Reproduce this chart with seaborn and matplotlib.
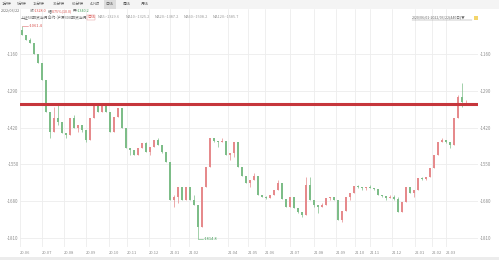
import numpy as np
import pandas as pd
import matplotlib
matplotlib.use("Agg")
import matplotlib.pyplot as plt
import seaborn as sns
from matplotlib.patches import Rectangle

# ---- data (spread, 4-trading-day bars) ----
opens = [-1075.2, -1092.9, -1110.5, -1121.1, -1160.0, -1191.8, -1251.9, -1364.9, -1435.6, -1386.1,
         -1400.2, -1439.1, -1446.2, -1386.1, -1421.4, -1410.8, -1428.5, -1463.8, -1386.1, -1343.7,
         -1364.9, -1336.7, -1364.9, -1435.6, -1382.6, -1350.8, -1421.4, -1492.1, -1499.2, -1516.8,
         -1492.1, -1474.4, -1506.2, -1488.6, -1463.8, -1481.5, -1506.2, -1541.6, -1675.8, -1665.2,
         -1629.9, -1675.8, -1629.9, -1675.8, -1693.5, -1771.2, -1629.9, -1559.2, -1456.8, -1467.4,
         -1470.9, -1467.4, -1516.8, -1509.8, -1470.9, -1559.2, -1591.0, -1615.8, -1605.2, -1591.0,
         -1658.2, -1665.2, -1668.8, -1658.2, -1640.5, -1615.8, -1672.3, -1700.5, -1665.2, -1704.1,
         -1718.2, -1728.8, -1622.8, -1675.8, -1693.5, -1700.5, -1693.5, -1668.8, -1665.2, -1675.8,
         -1746.5, -1714.7, -1665.2, -1651.1, -1626.4, -1629.9, -1633.4, -1629.9, -1633.4, -1637.0,
         -1658.2, -1661.7, -1668.8, -1665.2, -1672.3, -1718.2, -1682.9, -1629.9, -1651.1, -1640.5,
         -1598.1, -1601.6, -1594.6, -1562.8, -1516.8, -1470.9, -1463.8, -1470.9, -1481.5, -1386.1,
         -1312.0, -1329.6]
closes = [-1092.9, -1110.5, -1121.1, -1160.0, -1191.8, -1251.9, -1364.9, -1435.6, -1386.1, -1400.2,
          -1439.1, -1446.2, -1386.1, -1421.4, -1410.8, -1428.5, -1463.8, -1386.1, -1343.7, -1364.9,
          -1336.7, -1364.9, -1435.6, -1382.6, -1350.8, -1421.4, -1492.1, -1499.2, -1516.8, -1492.1,
          -1474.4, -1506.2, -1488.6, -1463.8, -1481.5, -1506.2, -1541.6, -1675.8, -1665.2, -1629.9,
          -1675.8, -1629.9, -1675.8, -1693.5, -1771.2, -1629.9, -1559.2, -1456.8, -1467.4, -1470.9,
          -1467.4, -1516.8, -1509.8, -1470.9, -1559.2, -1591.0, -1615.8, -1605.2, -1591.0, -1658.2,
          -1665.2, -1668.8, -1658.2, -1640.5, -1615.8, -1672.3, -1700.5, -1665.2, -1704.1, -1718.2,
          -1728.8, -1622.8, -1675.8, -1693.5, -1700.5, -1693.5, -1668.8, -1665.2, -1675.8, -1746.5,
          -1714.7, -1665.2, -1651.1, -1626.4, -1629.9, -1633.4, -1629.9, -1633.4, -1637.0, -1658.2,
          -1661.7, -1668.8, -1665.2, -1672.3, -1718.2, -1682.9, -1629.9, -1651.1, -1640.5, -1598.1,
          -1601.6, -1594.6, -1562.8, -1516.8, -1470.9, -1463.8, -1470.9, -1481.5, -1386.1, -1312.0,
          -1329.6, -1328.0]
highs = [-1061.4, -1092.9, -1103.5, -1121.1, -1160.0, -1191.8, -1251.9, -1364.9, -1347.3, -1340.2,
         -1400.2, -1439.1, -1386.1, -1375.5, -1410.8, -1410.8, -1428.5, -1386.1, -1340.2, -1343.7,
         -1336.7, -1333.1, -1364.9, -1382.6, -1350.8, -1350.8, -1421.4, -1492.1, -1499.2, -1492.1,
         -1474.4, -1470.9, -1488.6, -1463.8, -1456.8, -1481.5, -1506.2, -1541.6, -1658.2, -1629.9,
         -1629.9, -1629.9, -1629.9, -1658.2, -1693.5, -1629.9, -1559.2, -1456.8, -1456.8, -1467.4,
         -1456.8, -1467.4, -1509.8, -1470.9, -1470.9, -1559.2, -1591.0, -1605.2, -1580.4, -1591.0,
         -1658.2, -1661.7, -1658.2, -1640.5, -1605.2, -1615.8, -1672.3, -1665.2, -1665.2, -1704.1,
         -1718.2, -1594.6, -1594.6, -1675.8, -1693.5, -1686.4, -1668.8, -1665.2, -1665.2, -1675.8,
         -1714.7, -1665.2, -1651.1, -1626.4, -1622.8, -1629.9, -1629.9, -1622.8, -1633.4, -1637.0,
         -1658.2, -1661.7, -1658.2, -1658.2, -1665.2, -1682.9, -1629.9, -1629.9, -1640.5, -1598.1,
         -1594.6, -1594.6, -1562.8, -1516.8, -1470.9, -1456.8, -1463.8, -1470.9, -1386.1, -1304.9,
         -1262.5, -1322.5]
lows = [-1092.9, -1110.5, -1121.1, -1160.0, -1191.8, -1251.9, -1364.9, -1456.8, -1435.6, -1410.8,
        -1439.1, -1456.8, -1446.2, -1421.4, -1435.6, -1435.6, -1470.9, -1463.8, -1386.1, -1364.9,
        -1364.9, -1364.9, -1435.6, -1435.6, -1382.6, -1421.4, -1492.1, -1516.8, -1516.8, -1516.8,
        -1492.1, -1506.2, -1516.8, -1488.6, -1481.5, -1509.8, -1541.6, -1675.8, -1700.5, -1686.4,
        -1675.8, -1675.8, -1675.8, -1693.5, -1814.8, -1771.2, -1629.9, -1559.2, -1470.9, -1488.6,
        -1470.9, -1516.8, -1534.5, -1523.9, -1559.2, -1591.0, -1615.8, -1629.9, -1605.2, -1658.2,
        -1665.2, -1672.3, -1668.8, -1658.2, -1640.5, -1672.3, -1700.5, -1700.5, -1704.1, -1721.7,
        -1735.9, -1728.8, -1675.8, -1700.5, -1721.7, -1700.5, -1693.5, -1675.8, -1675.8, -1746.5,
        -1753.5, -1714.7, -1675.8, -1651.1, -1633.4, -1640.5, -1640.5, -1633.4, -1640.5, -1658.2,
        -1665.2, -1675.8, -1668.8, -1675.8, -1718.2, -1718.2, -1682.9, -1651.1, -1665.2, -1640.5,
        -1605.2, -1605.2, -1594.6, -1562.8, -1516.8, -1470.9, -1474.4, -1492.1, -1481.5, -1386.1,
        -1347.3, -1340.2]

month_pos = [0, 22, 44, 66, 89, 107, 129, 150, 169, 208, 228, 245, 270, 294, 316, 335, 350, 372, 395, 412, 426]
month_labels = ["20.06", "20.07", "20.08", "20.09", "20.10", "20.11", "20.12", "21.01", "21.02", "21.04",
                "21.05", "21.06", "21.07", "21.08", "21.09", "21.10", "21.11", "21.12", "22.01", "22.02", "22.03"]
y_ticks = [-1160, -1290, -1420, -1550, -1680, -1810]
ref_level = -1336.0
max_label = "-1061.4"
min_label = "-1814.8"

# ---- styling ----
sns.set_theme(style="white")
plt.rcParams["font.family"] = ["Noto Sans CJK SC", "DejaVu Sans"]
plt.rcParams["axes.unicode_minus"] = False

RED = "#e68a8c"
GREEN = "#7dbd88"
GRID = "#ededed"
TXT = "#8c8c8c"

df = pd.DataFrame({"open": opens, "close": closes, "high": highs, "low": lows})
df["x"] = np.arange(len(df)) * 4 + 2
df["col"] = np.where(df["close"] >= df["open"], RED, GREEN)

W, H = 499, 260
fig = plt.figure(figsize=(W / 100, H / 100), dpi=100)
ax_left, ax_right, ax_top, ax_bot = 20, 478, 9, 247
ax = fig.add_axes([ax_left / W, 1 - ax_bot / H, (ax_right - ax_left) / W, (ax_bot - ax_top) / H])

def px2val(y):
    return -(1160 + (y - 54) * 130 / 36.8)

ax.set_xlim(0, ax_right - ax_left)
ax.set_ylim(px2val(ax_bot), px2val(ax_top))

# grid
for v in y_ticks:
    ax.axhline(v, color=GRID, lw=0.6, zorder=0)
for p in month_pos:
    ax.axvline(p, color=GRID, lw=0.6, zorder=0)

# candles
ax.vlines(df["x"], df["low"], df["high"], colors=df["col"], lw=0.5, zorder=2)
ax.bar(df["x"], df["close"] - df["open"], bottom=df["open"], width=1.1,
       color=df["col"], linewidth=0, zorder=3)

# reference line
ax.axhline(ref_level, color="#c6363c", lw=2.2, zorder=4)

# extreme annotations
i_max = int(np.argmax(df["high"].values))
i_min = int(np.argmin(df["low"].values))
xm, ym = df["x"][i_max], df["high"][i_max]
ax.plot([xm, xm + 6], [ym, ym], color=RED, lw=0.5, zorder=3)
ax.text(xm + 6.5, ym, max_label, color="#d9534f", fontsize=2.9, va="center", ha="left")
xn, yn = df["x"][i_min], df["low"][i_min]
ax.plot([xn, xn + 5], [yn, yn], color=GREEN, lw=0.5, zorder=3)
ax.text(xn + 5.5, yn, min_label, color="#3f9b55", fontsize=2.9, va="center", ha="left")

# ticks
for s in ax.spines.values():
    s.set_visible(False)
ax.set_yticks(y_ticks)
ax.set_yticklabels([str(v) for v in y_ticks])
ax.tick_params(axis="y", length=0, labelsize=3.2, labelcolor=TXT, pad=1,
               labelleft=True, labelright=True)
ax.set_xticks(month_pos)
ax.set_xticklabels(month_labels, ha="left")
ax.tick_params(axis="x", length=0, labelsize=2.9, labelcolor=TXT, pad=3)
ax.grid(False)

# ---- header ----
def fx(x):
    return x / W

def fy(y):
    return 1 - y / H

fig.patches.append(Rectangle((0, fy(8.5)), 1, 8.5 / H, transform=fig.transFigure,
                             facecolor="#f4f4f4", edgecolor="none", zorder=0))
fig.patches.append(Rectangle((fx(103.5), fy(8.5)), 12 / W, 8.5 / H, transform=fig.transFigure,
                             facecolor="#dcdcdc", edgecolor="none", zorder=1))
tabs = [("1分钟", 2), ("5分钟", 17), ("15分钟", 33), ("30分钟", 53), ("60分钟", 72),
        ("4小时", 90), ("日线", 105), ("周线", 123), ("月线", 141)]
for t, x in tabs:
    fig.text(fx(x), fy(4.3), t, fontsize=2.8, color="#555555", va="center", ha="left")

fs2 = 2.7
fig.text(fx(1), fy(11), "2022/03/22", fontsize=fs2, color="#666666", va="center")
fig.text(fx(30), fy(11), "收:", fontsize=fs2, color="#666666", va="center")
fig.text(fx(34), fy(11), "-1328.0", fontsize=fs2, color="#d9534f", va="center")
fig.text(fx(48), fy(11), "幅:", fontsize=fs2, color="#666666", va="center")
fig.text(fx(52), fy(11), "0.75%(10.0)", fontsize=fs2, color="#d9534f", va="center")
fig.text(fx(73), fy(11), "开:", fontsize=fs2, color="#666666", va="center")
fig.text(fx(77), fy(11), "-1340.2", fontsize=fs2, color="#3f9b55", va="center")

fig.text(fx(21), fy(17.5), "上证50期货当月合约-沪深300期货当月", fontsize=2.8, color="#666666", va="center")
fig.text(fx(87), fy(17.5), "日线", fontsize=2.8, color="#d9534f", va="center",
         bbox=dict(boxstyle="square,pad=0.1", fc="white", ec="#e08a8a", lw=0.3))
mas = [("MA5:-1329.6", 98), ("MA10:-1325.2", 126), ("MA20:-1387.2", 155),
       ("MA60:-1508.2", 184), ("MA120:-1585.7", 213)]
for t, x in mas:
    fig.text(fx(x), fy(17.5), t, fontsize=2.8, color="#9a9a9a", va="center")

fig.text(fx(412), fy(17.5), "2020/06/01-2022/03/22(440日)▼", fontsize=2.6, color="#666666",
         va="center", family=["Noto Sans CJK SC", "DejaVu Sans"])
fig.lines.append(plt.Line2D([fx(412), fx(472)], [fy(19.8), fy(19.8)], transform=fig.transFigure,
                            color="#888888", lw=0.3))
fig.patches.append(Rectangle((fx(474), fy(19.5)), 3.5 / W, 3.5 / H, transform=fig.transFigure,
                             facecolor="#f3d56b", edgecolor="none"))

fig.patches.append(Rectangle((0, 0), 1, 3.5 / H, transform=fig.transFigure,
                             facecolor="#ececec", edgecolor="none"))

fig.savefig("out.png", dpi=100, facecolor="white")
